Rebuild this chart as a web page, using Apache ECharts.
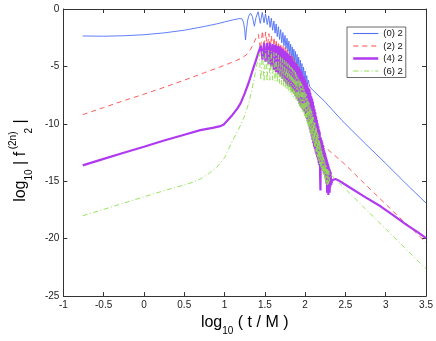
<!DOCTYPE html>
<html>
<head>
<meta charset="utf-8">
<script src="https://cdn.jsdelivr.net/npm/echarts/dist/echarts.min.js"></script>
<style>
  html, body { margin: 0; padding: 0; background: #fff; }
  #chart { width: 436px; height: 341px; }
</style>
</head>
<body>
<div id="chart"></div>
<script>
// legend names
const seriesNames = ['(0) 2', '(2) 2', '(4) 2', '(6) 2'];
const seriesColors = ['#4f70f5', '#ff4a4a', '#b03af0', '#8ee050'];

// [log10(t/M), log10|f|]
const f0 = [[-0.76,-2.35],[-0.5,-2.37],[-0.25,-2.33],[0,-2.24],[0.25,-2.08],[0.5,-1.85],[0.75,-1.52],[0.9,-1.3],[1.0,-1.13],[1.1,-0.95],[1.18,-0.84],[1.215,-0.85],[1.235,-1.15],[1.25,-1.8],[1.26,-2.7],[1.27,-1.9],[1.285,-1.05],[1.3,-0.62],[1.322,-0.36],[1.345,-0.65],[1.37,-1.5],[1.39,-0.75],[1.416,-0.24],[1.443,-1.25],[1.468,-0.3],[1.49,-1.2],[1.508,-0.42],[1.53,-1.35],[1.548,-0.6],[1.565,-1.6],[1.58,-0.8],[1.597,-1.85],[1.612,-1.05],[1.627,-2.1],[1.64,-1.3],[1.654,-2.4],[1.668,-1.55],[1.682,-2.65],[1.696,-1.8],[1.71,-2.95],[1.724,-2.05],[1.737,-3.2],[1.75,-2.3],[1.762,-3.45],[1.775,-2.55],[1.787,-3.7],[1.798,-2.8],[1.81,-4.0],[1.82,-3.05],[1.83,-4.25],[1.84,-3.3],[1.85,-4.5],[1.86,-3.5],[1.87,-4.75],[1.88,-3.7],[1.89,-5.0],[1.9,-3.95],[1.91,-5.25],[1.92,-4.2],[1.93,-5.5],[1.94,-4.45],[1.95,-5.75],[1.96,-4.75],[1.97,-6.0],[1.98,-5.05],[1.99,-6.2],[2.0,-5.4],[2.01,-6.4],[2.02,-5.8],[2.03,-6.6],[2.04,-6.2],[2.055,-6.75],[2.1,-7.1],[2.236,-8.0],[2.456,-9.7],[2.75,-11.75],[3.0,-13.45],[3.25,-15.2],[3.5,-16.9]];

const f2 = [[-0.76,-9.2],[-0.5,-8.58],[-0.25,-7.98],[0,-7.42],[0.25,-6.82],[0.5,-6.2],[0.75,-5.55],[1.0,-4.9],[1.1,-4.62],[1.2,-4.32],[1.27,-4.0],[1.32,-3.55],[1.36,-3.0],[1.39,-2.55],[1.42,-2.2],[1.445,-3.5],[1.47,-1.9],[1.49,-3.4],[1.51,-2.0],[1.53,-3.5],[1.55,-2.15],[1.566,-3.7],[1.582,-2.3],[1.598,-3.9],[1.614,-2.45],[1.628,-4.1],[1.642,-2.65],[1.656,-4.3],[1.67,-2.85],[1.684,-4.5],[1.698,-3.0],[1.712,-4.7],[1.726,-3.15],[1.739,-4.9],[1.752,-3.35],[1.764,-5.1],[1.776,-3.55],[1.788,-5.3],[1.8,-3.75],[1.811,-5.55],[1.822,-3.95],[1.832,-5.8],[1.842,-4.15],[1.852,-6.05],[1.862,-4.35],[1.872,-6.3],[1.882,-4.55],[1.892,-6.55],[1.902,-4.8],[1.912,-6.8],[1.922,-5.05],[1.932,-7.05],[1.942,-5.3],[1.952,-7.3],[1.962,-5.55],[1.972,-7.6],[1.982,-5.8],[1.992,-7.9],[2.002,-6.05],[2.012,-8.2],[2.022,-6.4],[2.032,-8.6],[2.042,-6.9],[2.052,-9.0],[2.062,-7.5],[2.072,-9.5],[2.082,-8.2],[2.092,-10.0],[2.102,-8.9],[2.112,-10.5],[2.122,-9.6],[2.132,-11.0],[2.142,-10.4],[2.155,-11.5],[2.3,-12.35],[2.49,-13.5],[2.75,-15.3],[3.0,-17.0],[3.2,-18.35],[3.35,-19.3],[3.5,-20.35]];

const f4 = [[-0.76,-13.62],[-0.5,-13.05],[-0.25,-12.52],[0,-12.0],[0.25,-11.45],[0.5,-10.95],[0.7,-10.55],[0.85,-10.35],[0.95,-10.2],[0.99,-10.05],[1.03,-9.75],[1.1,-9.2],[1.16,-8.65],[1.2,-8.2],[1.25,-7.35],[1.3,-6.4],[1.35,-5.3],[1.39,-4.45],[1.42,-3.8],[1.45,-3.2],[1.47,-4.4],[1.49,-3.0],[1.509,-4.6],[1.528,-2.95],[1.546,-4.8],[1.563,-2.95],[1.58,-5.0],[1.596,-3.05],[1.611,-5.3],[1.626,-3.1],[1.64,-5.5],[1.654,-3.2],[1.668,-5.7],[1.681,-3.25],[1.694,-5.9],[1.706,-3.35],[1.718,-6.1],[1.73,-3.5],[1.742,-6.3],[1.753,-3.65],[1.764,-6.5],[1.775,-3.8],[1.786,-6.7],[1.796,-3.95],[1.806,-6.8],[1.816,-4.1],[1.826,-7.0],[1.835,-4.3],[1.844,-7.2],[1.853,-4.5],[1.862,-7.4],[1.871,-4.65],[1.88,-7.6],[1.888,-4.8],[1.896,-7.8],[1.904,-4.95],[1.912,-8.0],[1.92,-5.1],[1.928,-8.2],[1.935,-5.25],[1.943,-8.4],[1.95,-5.45],[1.957,-8.6],[1.964,-5.65],[1.971,-8.75],[1.978,-5.85],[1.985,-8.9],[1.991,-6.05],[1.998,-9.0],[2.004,-6.25],[2.011,-9.3],[2.017,-6.45],[2.023,-9.6],[2.029,-6.65],[2.035,-9.9],[2.041,-6.85],[2.047,-10.2],[2.053,-7.0],[2.059,-10.5],[2.064,-7.3],[2.07,-10.8],[2.075,-7.6],[2.081,-11.1],[2.086,-7.8],[2.091,-11.4],[2.096,-8.05],[2.101,-11.7],[2.106,-8.4],[2.111,-12.0],[2.116,-8.7],[2.121,-12.2],[2.126,-9.0],[2.131,-12.5],[2.136,-9.35],[2.141,-12.7],[2.145,-9.65],[2.15,-12.9],[2.154,-9.95],[2.159,-13.1],[2.163,-10.2],[2.168,-13.4],[2.172,-10.5],[2.176,-13.6],[2.18,-10.7],[2.186,-14.6],[2.19,-15.8],[2.194,-11.2],[2.2,-13.7],[2.204,-11.4],[2.208,-13.8],[2.212,-11.6],[2.216,-14.0],[2.22,-11.85],[2.224,-14.1],[2.228,-12.1],[2.232,-14.3],[2.236,-12.3],[2.24,-14.4],[2.244,-12.5],[2.248,-14.6],[2.252,-12.7],[2.256,-14.8],[2.26,-12.9],[2.264,-15.2],[2.268,-13.1],[2.272,-16.0],[2.276,-13.3],[2.28,-15.5],[2.284,-13.5],[2.288,-16.2],[2.292,-13.7],[2.296,-15.6],[2.3,-13.9],[2.304,-16.0],[2.308,-14.05],[2.312,-15.5],[2.316,-14.2],[2.322,-15.3],[2.336,-14.9],[2.376,-14.8],[2.42,-14.95],[2.5,-15.3],[2.75,-16.4],[2.94,-17.2],[3.1,-18.0],[3.25,-18.75],[3.4,-19.45],[3.5,-19.95]];

const f6 = [[-0.76,-18.0],[-0.5,-17.45],[-0.25,-16.9],[0,-16.35],[0.25,-15.82],[0.5,-15.32],[0.62,-15.05],[0.7,-14.8],[0.8,-14.35],[0.9,-13.8],[0.95,-13.4],[1.0,-12.95],[1.05,-12.2],[1.1,-11.45],[1.18,-10.4],[1.25,-9.3],[1.3,-8.2],[1.34,-7.0],[1.38,-5.6],[1.41,-4.5],[1.43,-3.9],[1.45,-6.2],[1.47,-3.7],[1.49,-6.3],[1.509,-3.6],[1.528,-6.3],[1.546,-3.6],[1.563,-6.2],[1.58,-3.65],[1.596,-6.2],[1.611,-3.75],[1.626,-6.3],[1.64,-3.85],[1.654,-6.4],[1.668,-4.0],[1.681,-6.5],[1.694,-4.15],[1.706,-6.6],[1.718,-4.3],[1.73,-6.75],[1.742,-4.45],[1.753,-6.9],[1.764,-4.6],[1.775,-7.05],[1.786,-4.75],[1.796,-7.2],[1.806,-4.9],[1.816,-7.35],[1.826,-5.05],[1.835,-7.5],[1.844,-5.2],[1.853,-7.65],[1.862,-5.35],[1.871,-7.8],[1.88,-5.5],[1.888,-7.95],[1.896,-5.7],[1.904,-8.1],[1.912,-5.9],[1.92,-8.3],[1.928,-6.1],[1.935,-8.5],[1.943,-6.3],[1.95,-8.7],[1.957,-6.5],[1.964,-8.9],[1.971,-6.7],[1.978,-9.1],[1.985,-6.9],[1.991,-9.3],[1.998,-7.15],[2.004,-9.5],[2.011,-7.4],[2.017,-9.75],[2.023,-7.65],[2.029,-10.0],[2.035,-7.9],[2.041,-10.25],[2.047,-8.15],[2.053,-10.5],[2.059,-8.4],[2.064,-10.75],[2.07,-8.65],[2.075,-11.0],[2.081,-8.9],[2.086,-11.2],[2.091,-9.15],[2.096,-11.45],[2.101,-9.4],[2.106,-11.7],[2.111,-9.65],[2.116,-11.95],[2.121,-9.9],[2.126,-12.2],[2.131,-10.15],[2.136,-12.45],[2.141,-10.4],[2.145,-12.7],[2.15,-10.65],[2.154,-12.9],[2.159,-10.9],[2.163,-13.1],[2.168,-11.15],[2.172,-13.3],[2.176,-11.4],[2.18,-13.5],[2.186,-11.7],[2.19,-13.7],[2.196,-12.0],[2.2,-13.9],[2.206,-12.3],[2.21,-14.1],[2.216,-12.6],[2.22,-14.3],[2.226,-12.9],[2.23,-14.5],[2.236,-13.1],[2.24,-14.7],[2.246,-13.3],[2.25,-14.9],[2.256,-13.5],[2.26,-15.1],[2.266,-13.7],[2.27,-15.3],[2.276,-13.85],[2.28,-15.4],[2.286,-14.0],[2.29,-15.2],[2.296,-14.1],[2.3,-15.0],[2.316,-14.4],[2.4,-14.98],[2.5,-15.68],[2.75,-17.42],[3.0,-19.15],[3.25,-20.9],[3.5,-22.65]];

const FONT = 'Liberation Sans';
const lineWidths = [0.9, 0.9, 2.2, 0.9];
const lineDashes = ['solid', [5, 4], 'solid', [5, 2.5, 1, 2.5]];

var chart = echarts.init(document.getElementById('chart'), null, { renderer: 'canvas' });

function lineSeries(i, data) {
  return {
    name: seriesNames[i],
    type: 'line',
    data: data,
    symbol: 'none',
    showSymbol: false,
    xAxisIndex: 0,
    yAxisIndex: 0,
    lineStyle: { color: seriesColors[i], width: lineWidths[i], type: lineDashes[i] },
    itemStyle: { color: seriesColors[i] },
    emphasis: { disabled: true }
  };
}

const axisLineStyle = { color: '#333', width: 1 };
const nameRich = {
  a: { fontSize: 16, fontFamily: FONT, color: '#000' },
  s: { fontSize: 10, fontFamily: FONT, color: '#000', verticalAlign: 'bottom', padding: [16, 0, 0, 0] },
  p: { fontSize: 10, fontFamily: FONT, color: '#000', verticalAlign: 'top', padding: [0, 0, 16, 0], width: 14 },
  g: { fontSize: 10, width: 16 }
};

chart.setOption({
  animation: false,
  backgroundColor: '#fff',
  grid: { left: 52, right: 9, top: 9, bottom: 35, containLabel: false },
  legend: {
    orient: 'vertical',
    left: 347,
    top: 27,
    data: seriesNames.map((n, i) => ({
      name: n,
      lineStyle: { color: seriesColors[i], width: i === 2 ? 2.5 : 1.1, type: lineDashes[i] }
    })),
    itemWidth: 25,
    itemHeight: 10,
    itemGap: 2.5,
    padding: [1.5, 3, 1.5, 5],
    borderColor: '#444',
    borderWidth: 0.8,
    borderRadius: 0,
    backgroundColor: '#fff',
    selectedMode: false,
    itemStyle: { opacity: 0 },
    textStyle: { fontSize: 9.5, fontFamily: FONT, color: '#111' }
  },
  xAxis: [{
    type: 'value',
    min: -1, max: 3.5, interval: 0.5,
    position: 'bottom',
    axisLine: { show: true, onZero: false, lineStyle: axisLineStyle },
    axisTick: { show: true, inside: true, length: 4, lineStyle: axisLineStyle },
    axisLabel: { fontSize: 10, fontFamily: FONT, color: '#222', margin: 4 },
    splitLine: { show: false },
    name: '{a|log}{s|10}{a| ( t / M )}',
    nameLocation: 'middle',
    nameGap: 11,
    nameTextStyle: { rich: nameRich }
  }, {
    type: 'value',
    min: -1, max: 3.5, interval: 0.5,
    position: 'top',
    axisLine: { show: true, onZero: false, lineStyle: axisLineStyle },
    axisTick: { show: true, inside: true, length: 4, lineStyle: axisLineStyle },
    axisLabel: { show: false },
    splitLine: { show: false }
  }],
  yAxis: [{
    type: 'value',
    min: -25, max: 0, interval: 5,
    position: 'left',
    axisLine: { show: true, onZero: false, lineStyle: axisLineStyle },
    axisTick: { show: true, inside: true, length: 4, lineStyle: axisLineStyle },
    axisLabel: { fontSize: 10, fontFamily: FONT, color: '#222', margin: 4 },
    splitLine: { show: false },
    name: '{a|log}{s|10}{a| | f }{p|(2n)}{s|2}{a| |}{g| }',
    nameLocation: 'middle',
    nameGap: 26,
    nameTextStyle: { rich: nameRich }
  }, {
    type: 'value',
    min: -25, max: 0, interval: 5,
    position: 'right',
    axisLine: { show: true, onZero: false, lineStyle: axisLineStyle },
    axisTick: { show: true, inside: true, length: 4, lineStyle: axisLineStyle },
    axisLabel: { show: false },
    splitLine: { show: false }
  }],
  series: [
    lineSeries(0, f0),
    lineSeries(1, f2),
    lineSeries(2, f4),
    lineSeries(3, f6)
  ]
});
</script>
</body>
</html>
